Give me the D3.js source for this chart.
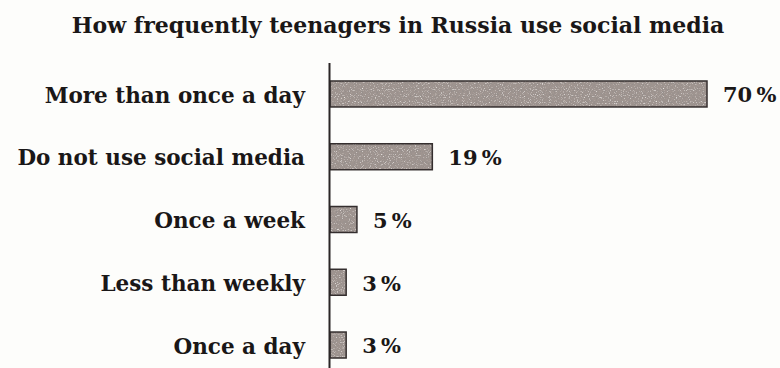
<!DOCTYPE html>
<html>
<head>
<meta charset="utf-8">
<script src="https://cdn.jsdelivr.net/npm/d3@7"></script>
<style>
  html, body { margin: 0; padding: 0; background: #fdfdfb; }
  svg { display: block; }
  text { font-family: "DejaVu Serif", "Liberation Serif", serif; font-weight: bold; fill: #1a1717; }
</style>
</head>
<body>
<svg id="chart" width="780" height="368"></svg>
<script>
const title = "How frequently teenagers in Russia use social media";
const categories = ["More than once a day", "Do not use social media", "Once a week", "Less than weekly", "Once a day"];
const values = [70, 19, 5, 3, 3];

const W = 780, H = 368;
const svg = d3.select("#chart");

// Grainy fill for the bars: dark and light specks over a grey-brown base
const defs = svg.append("defs");
const grain = defs.append("filter").attr("id", "grain")
  .attr("x", 0).attr("y", 0).attr("width", 1).attr("height", 1);
grain.append("feTurbulence").attr("type", "fractalNoise")
  .attr("baseFrequency", 0.85).attr("numOctaves", 2).attr("seed", 7).attr("result", "noise");
grain.append("feColorMatrix").attr("in", "noise").attr("type", "matrix")
  .attr("values", "0 0 0 0 0.30  0 0 0 0 0.27  0 0 0 0 0.26  3.2 0 0 0 -1.45")
  .attr("result", "dark");
grain.append("feColorMatrix").attr("in", "noise").attr("type", "matrix")
  .attr("values", "0 0 0 0 0.85  0 0 0 0 0.82  0 0 0 0 0.80  -3.0 0 0 0 1.25")
  .attr("result", "light");
grain.append("feMerge").attr("result", "specks")
  .call(m => { m.append("feMergeNode").attr("in", "dark"); m.append("feMergeNode").attr("in", "light"); });
grain.append("feComposite").attr("in", "specks").attr("in2", "SourceGraphic").attr("operator", "atop");

const x = d3.scaleLinear().domain([0, 70]).range([330, 707]);
const y = d3.scaleBand().domain(categories).range([62.6, 376.4])
  .paddingInner(0.586).paddingOuter(0.293);

// Title
svg.append("text")
  .attr("x", 398).attr("y", 33)
  .attr("text-anchor", "middle")
  .style("font-size", "22px")
  .text(title);

// Bars
svg.append("g").selectAll("rect")
  .data(values)
  .join("rect")
  .attr("x", x(0))
  .attr("y", (d, i) => y(categories[i]))
  .attr("width", d => x(d) - x(0))
  .attr("height", y.bandwidth())
  .attr("fill", "#a09590")
  .attr("filter", "url(#grain)");

// Bar outlines drawn on top so the grain does not soften them
svg.append("g").selectAll("rect")
  .data(values)
  .join("rect")
  .attr("x", x(0))
  .attr("y", (d, i) => y(categories[i]))
  .attr("width", d => x(d) - x(0))
  .attr("height", y.bandwidth())
  .attr("fill", "none")
  .attr("stroke", "#342e2e")
  .attr("stroke-width", 1.5);

// Category axis: the domain line is the vertical baseline
const axis = svg.append("g")
  .attr("transform", `translate(${x(0) - 1},0)`)
  .call(d3.axisLeft(y).tickSize(0).tickSizeOuter(0).tickPadding(24));
axis.select(".domain").attr("stroke", "#2a2626").attr("stroke-width", 2);
axis.selectAll(".tick text")
  .style("font-size", "21.5px")
  .style("font-family", "\"DejaVu Serif\", serif")
  .attr("fill", "#1a1717")
  .attr("dy", "0.4em");

// Value labels
svg.append("g").selectAll("text")
  .data(values)
  .join("text")
  .attr("x", d => x(d) + 16)
  .attr("y", (d, i) => y(categories[i]) + y.bandwidth() / 2)
  .attr("dy", "0.4em")
  .style("font-size", "21px")
  .text(d => d + "\u2009%");
</script>
</body>
</html>
